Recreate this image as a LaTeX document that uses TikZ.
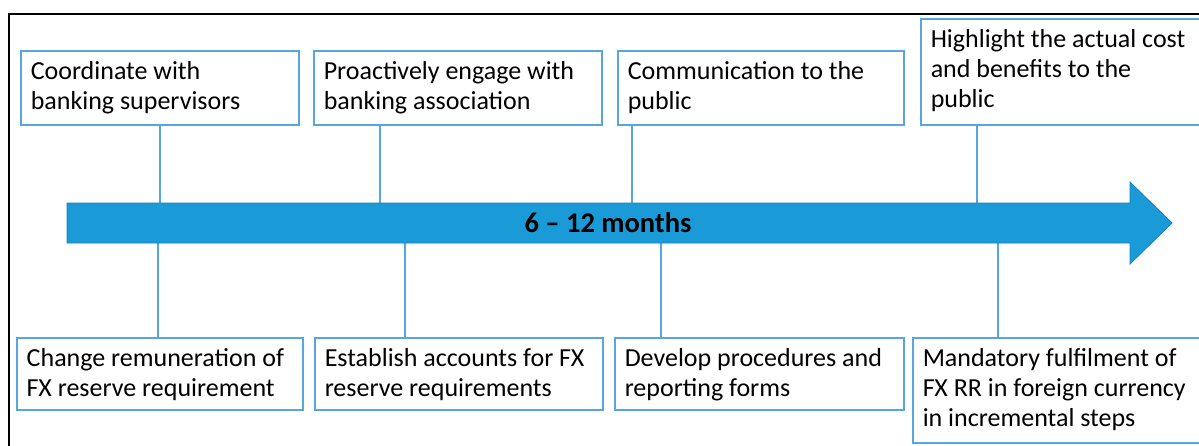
\documentclass[tikz,border=0pt]{standalone}
\usepackage{fontspec}
\setmainfont{Carlito}
\definecolor{boxblue}{RGB}{86,166,226}
\definecolor{arrowblue}{RGB}{26,154,214}
\definecolor{arrowedge}{RGB}{22,132,192}
\newcommand{\boxtext}[3]{\parbox[t][#2][t]{#1}{\strut #3}}
\tikzset{
  box/.style={draw=boxblue, line width=1.5pt, inner xsep=10pt, inner ysep=8pt,
    anchor=north west, font=\fontsize{26}{30}\selectfont},
  conn/.style={draw=boxblue, line width=1.5pt},
  timearrow/.style={fill=arrowblue, draw=arrowedge, line width=0.8pt},
  frameline/.style={draw=black, line width=2pt},
  lbl/.style={font=\fontsize{28.5}{30}\selectfont\bfseries, text=black}
}
\begin{document}
\begin{tikzpicture}[x=1pt,y=-1pt]
\useasboundingbox (0,0) rectangle (1199,445);
\fill[white] (0,0) rectangle (1199,445);
\draw[frameline] (9,14) rectangle (1220,470);

% top boxes
\node[box] (t1) at (20,50)  {\boxtext{258pt}{58pt}{Coordinate with\\banking supervisors}};
\node[box] (t2) at (313,50) {\boxtext{268pt}{58pt}{Proactively engage with\\banking association}};
\node[box] (t3) at (617,50) {\boxtext{266pt}{58pt}{Communication to the\\public}};
\node[box] (t4) at (920,18) {\boxtext{292pt}{90pt}{Highlight the actual cost\\and benefits to the\\public}};

% bottom boxes
\node[box] (b1) at (16,337)  {\boxtext{266pt}{56pt}{Change remuneration of\\FX reserve requirement}};
\node[box] (b2) at (314,337) {\boxtext{268pt}{56pt}{Establish accounts for FX\\reserve requirements}};
\node[box] (b3) at (614,337) {\boxtext{269pt}{56pt}{Develop procedures and\\reporting forms}};
\node[box] (b4) at (912,337) {\boxtext{292pt}{89pt}{Mandatory fulfilment of\\FX RR in foreign currency\\in incremental steps}};

% arrow attachment points
\coordinate (a1) at (160,204);
\coordinate (a2) at (380,204);
\coordinate (a3) at (632,204);
\coordinate (a4) at (977,204);
\coordinate (c1) at (158,242);
\coordinate (c2) at (405,242);
\coordinate (c3) at (661,242);
\coordinate (c4) at (998,242);

\draw[conn] (t1.south -| a1) -- (a1);
\draw[conn] (t2.south -| a2) -- (a2);
\draw[conn] (t3.south -| a3) -- (a3);
\draw[conn] (t4.south -| a4) -- (a4);
\draw[conn] (c1) -- (b1.north -| c1);
\draw[conn] (c2) -- (b2.north -| c2);
\draw[conn] (c3) -- (b3.north -| c3);
\draw[conn] (c4) -- (b4.north -| c4);

% timeline arrow
\path[timearrow] (67,203) -- (1130,203) -- (1130,182) -- (1172,223) -- (1130,264) -- (1130,243) -- (67,243) -- cycle;
\node[lbl] (dur) at (608,223) {6 – 12 months};
\end{tikzpicture}
\end{document}
